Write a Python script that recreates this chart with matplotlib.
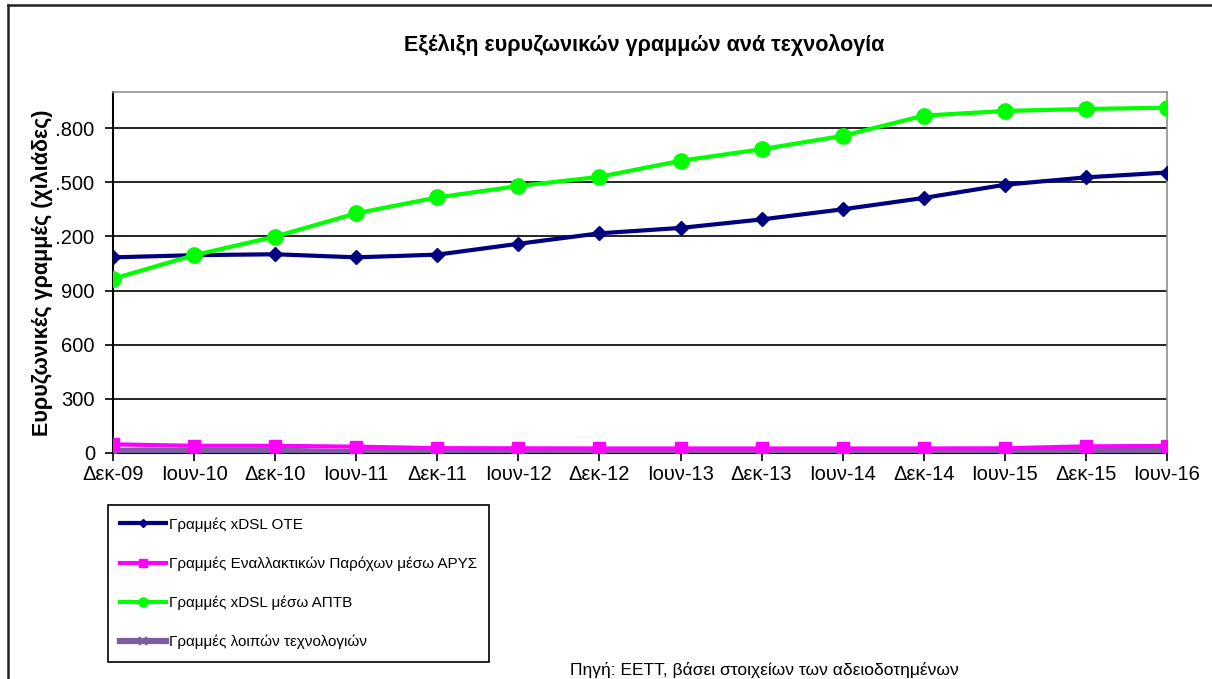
import numpy as np
import matplotlib
matplotlib.use('Agg')
import matplotlib.pyplot as plt
from matplotlib.lines import Line2D
from matplotlib.ticker import FuncFormatter

plt.rcParams['font.family'] = ['Liberation Sans', 'DejaVu Sans']

# περίοδοι
periods = ['Δεκ-09', 'Ιουν-10', 'Δεκ-10', 'Ιουν-11', 'Δεκ-11', 'Ιουν-12', 'Δεκ-12',
           'Ιουν-13', 'Δεκ-13', 'Ιουν-14', 'Δεκ-14', 'Ιουν-15', 'Δεκ-15', 'Ιουν-16']

# γραμμές (χιλιάδες)
xdsl_ote = [1084, 1096, 1101, 1084, 1099, 1159, 1217, 1247, 1294, 1350, 1413, 1486, 1527, 1554]
arys = [48, 40, 40, 35, 27, 26, 25, 25, 25, 25, 25, 26, 37, 39]
xdsl_aptv = [965, 1096, 1199, 1328, 1416, 1479, 1530, 1619, 1683, 1757, 1869, 1895, 1906, 1913]
other = [12, 12, 12, 5, 5, 9, 6, 6, 9, 9, 9, 9, 11, 11]

labels = ['Γραμμές xDSL ΟΤΕ',
          'Γραμμές Εναλλακτικών Παρόχων μέσω ΑΡΥΣ',
          'Γραμμές xDSL μέσω ΑΠΤΒ',
          'Γραμμές λοιπών τεχνολογιών']

W, H = 1212, 679
fig = plt.figure(figsize=(W / 100, H / 100), dpi=100)
ax = fig.add_axes([113 / W, 1 - 453 / H, (1167 - 113) / W, (453 - 92) / H])

x = np.arange(len(periods))
ax.plot(x, other, '-x', color='#7B5EA0', lw=4.5, ms=9, mew=1.5, label=labels[3], zorder=3)
ax.plot(x, arys, '-s', color='#FF00FF', lw=3, ms=9, label=labels[1], zorder=4)
ax.plot(x, xdsl_ote, '-D', color='#000080', lw=3, ms=7, label=labels[0], zorder=5)
ax.plot(x, xdsl_aptv, '-o', color='#00FF00', lw=3, ms=11, label=labels[2], zorder=6)

ax.set_xlim(0, len(periods) - 1)
ax.set_ylim(0, 2000)
ax.set_yticks(range(0, 1801, 300))
ax.yaxis.set_major_formatter(FuncFormatter(lambda v, p: f'{int(v):,}'.replace(',', '.')))
ax.set_xticks(x)
ax.set_xticklabels(periods)
ax.tick_params(labelsize=14.5, length=6, width=1.2, direction='out')
ax.tick_params(axis='y', pad=7)
ax.tick_params(axis='x', pad=3)
ax.grid(True, axis='y', color='black', lw=1.2)
ax.set_axisbelow(True)

for s in ['left', 'bottom']:
    ax.spines[s].set_color('black')
    ax.spines[s].set_linewidth(1.5)
for s in ['top', 'right']:
    ax.spines[s].set_color('#909090')
    ax.spines[s].set_linewidth(1.2)

# σειρά υπομνήματος
h, l = ax.get_legend_handles_labels()
hd = {ll: hh for hh, ll in zip(h, l)}
leg = fig.legend([hd[t] for t in labels], labels, loc='upper left',
                 bbox_to_anchor=(108 / W, 1 - 505 / H), fontsize=11,
                 labelspacing=1.62, handlelength=3.0, handletextpad=0.2,
                 borderpad=0.8, borderaxespad=0, markerscale=0.6, fancybox=False,
                 edgecolor='black', framealpha=1)
leg.get_frame().set_linewidth(1.2)

fig.text(644 / W, 1 - 45 / H, 'Εξέλιξη ευρυζωνικών γραμμών ανά τεχνολογία',
         ha='center', va='center', fontsize=15.5, fontweight='bold')
fig.text(42 / W, 1 - 273 / H, 'Ευρυζωνικές γραμμές (χιλιάδες)', rotation=90,
         ha='center', va='center', fontsize=15.5, fontweight='bold',
         bbox=dict(facecolor='white', edgecolor='none', pad=3), zorder=10)
fig.text(570 / W, 1 - 675 / H, 'Πηγή: ΕΕΤΤ, βάσει στοιχείων των αδειοδοτημένων',
         ha='left', va='baseline', fontsize=12.5)

# πλαίσιο γραφήματος
fig.add_artist(Line2D([8 / W, 1], [1 - 5 / H, 1 - 5 / H], color='#222222', lw=1.8))
fig.add_artist(Line2D([8 / W, 8 / W], [1 - 5 / H, 0], color='#222222', lw=1.8))

fig.savefig('out.png', dpi=100)
